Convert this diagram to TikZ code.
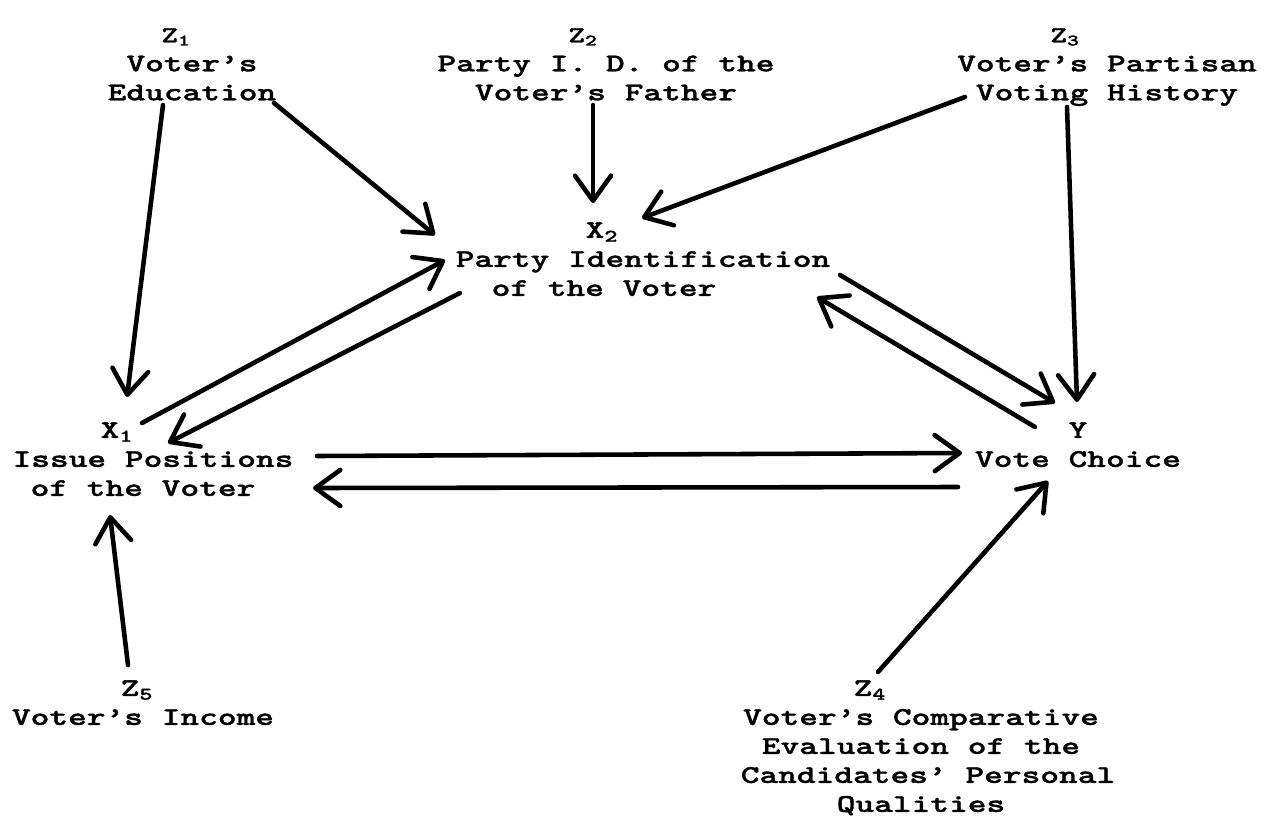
\documentclass[tikz,border=0pt]{standalone}
\usepackage{fontspec}
\newfontfamily\typer{lmmonolt10-bold.otf}[FakeStretch=1.4,FakeBold=1.2]
\usetikzlibrary{arrows.meta,calc}
\newcommand{\toplab}[1]{{\fontsize{13}{16.5}\selectfont #1}}

\tikzset{
  var/.style={align=center, inner sep=0pt, anchor=north,
    font=\typer\fontsize{14.5}{16.5}\selectfont},
  link/.style={line width=2.6pt, line cap=round,
    -{Straight Barb[length=0.5cm,width=0.72cm,round]}}
}

\begin{document}
\begin{tikzpicture}[x=0.02cm,y=-0.02cm]
\useasboundingbox (0,0) rectangle (1275,825);

% exogenous variables
\node[var] (z1) at (192,28) {\toplab{Z\textsubscript{1}}\hspace*{0.64cm}\\Voter’s\\Education};
\node[var] (z2) at (606,28) {\toplab{Z\textsubscript{2}}\hspace*{0.92cm}\\Party I. D. of the\\Voter’s Father};
\node[var] (z3) at (1107,28) {\toplab{Z\textsubscript{3}}\hspace*{1.68cm}\\Voter’s Partisan\\Voting History};
\node[var] (z5) at (143,680) {Z\textsubscript{5}\hspace*{0.24cm}\\Voter’s Income};
\node[var] (z4) at (921,680) {Z\textsubscript{4}\hspace*{2.04cm}\\Voter’s Comparative\\Evaluation of the\\\hspace*{0.28cm}Candidates’ Personal\\Qualities};

% endogenous variables
\node[var] (x2) at (643,222) {X\textsubscript{2}\hspace*{1.64cm}\\Party Identification\\of the Voter\hspace*{1.56cm}};
\node[var] (x1) at (153,422) {X\textsubscript{1}\hspace*{1.44cm}\\Issue Positions\\of the Voter\hspace*{0.4cm}};
\node[var] (y) at (1078,422) {Y\\Vote Choice};

% paths
\draw[link] ($(z1.north)+(-29,77)$) -- ($(x1.north)+(-26,-25)$);
\draw[link] ($(z1.north)+(82,75)$) -- ($(x2.north)+(-208,13)$);
\draw[link] ($(z2.north)+(-13,77)$) -- ($(x2.north)+(-50,-19)$);
\draw[link] ($(z3.north)+(-142,69)$) -- ($(x2.north)+(-1,-4)$);
\draw[link] ($(z3.north)+(-40,79)$) -- ($(y.north)+(-1,-20)$);
\draw[link] ($(x2.north)+(197,53)$) -- ($(y.north)+(-23,-19)$);
\draw[link] ($(y.north)+(-43,5)$) -- ($(x2.north)+(174,75)$);
\draw[link] ($(x1.north)+(-11,1)$) -- ($(x2.north)+(-198,38)$);
\draw[link] ($(x2.north)+(-183,71)$) -- ($(x1.north)+(15,21)$);
\draw[link] ($(x1.north)+(164,34)$) -- ($(y.north)+(-116,31)$);
\draw[link] ($(y.north)+(-120,65)$) -- ($(x1.north)+(160,66)$);
\draw[link] ($(z5.north)+(-15,-15)$) -- ($(x1.north)+(-43,93)$);
\draw[link] ($(z4.north)+(-43,-8)$) -- ($(y.north)+(-30,59)$);
\end{tikzpicture}
\end{document}
